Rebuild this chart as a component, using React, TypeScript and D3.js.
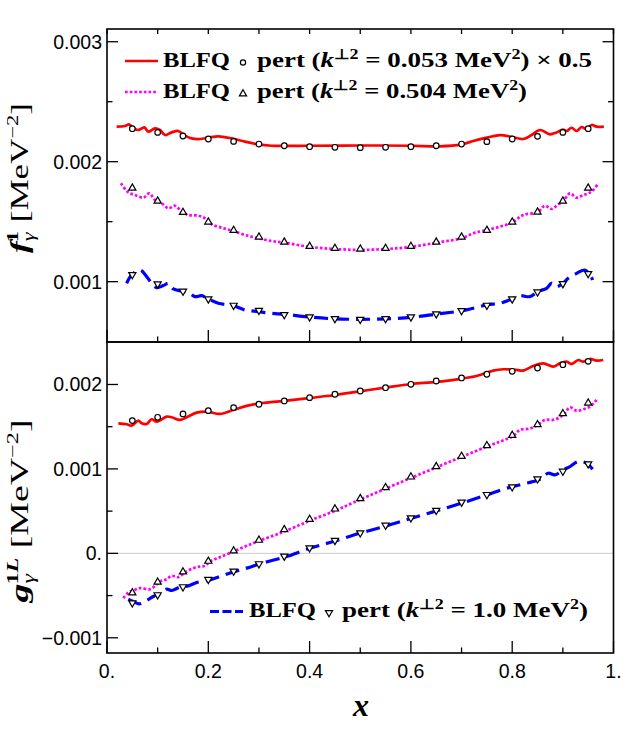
import React from "react";
import * as d3 from "d3";

const W = 623;
const H = 732;

// ---------- data ----------
const markerX = [0.05, 0.1, 0.15, 0.2, 0.25, 0.3, 0.35, 0.4, 0.45, 0.5, 0.55, 0.6, 0.65, 0.7, 0.75, 0.8, 0.85, 0.9, 0.95];

// top panel (f1), perturbative points
const f1RedPts = [0.002275, 0.002244, 0.002214, 0.002189, 0.002169, 0.002147, 0.002133, 0.002125, 0.00212, 0.002117, 0.00212, 0.002125, 0.002133, 0.002147, 0.002167, 0.002189, 0.002211, 0.002244, 0.002275];
const f1MagPts = [0.001783, 0.001675, 0.00158, 0.0015, 0.00143, 0.001375, 0.001333, 0.001297, 0.00128, 0.001275, 0.00128, 0.001297, 0.001333, 0.001375, 0.001431, 0.0015, 0.001583, 0.001675, 0.001783];
const f1BluePts = [0.001056, 0.000978, 0.000917, 0.000853, 0.0008, 0.000758, 0.000722, 0.000703, 0.000689, 0.000683, 0.000689, 0.000703, 0.000728, 0.000756, 0.0008, 0.000853, 0.000911, 0.00098, 0.001064];

// top panel BLFQ curves [x, value]
const f1RedCurve: [number, number][] = [
  [0.019, 0.002292], [0.0355, 0.002297], [0.0434, 0.002311], [0.052, 0.002283], [0.0618, 0.002264],
  [0.0737, 0.002286], [0.0816, 0.00225], [0.0947, 0.002278], [0.1046, 0.002264], [0.1145, 0.002222],
  [0.1276, 0.002244], [0.1408, 0.002256], [0.154, 0.002217], [0.1671, 0.002194], [0.1836, 0.002189],
  [0.2, 0.0022], [0.2198, 0.002211], [0.2461, 0.002194], [0.2724, 0.002167], [0.2987, 0.002144],
  [0.325, 0.002133], [0.3514, 0.002131], [0.4, 0.002133], [0.5, 0.002135], [0.6, 0.002133],
  [0.6573, 0.002128], [0.6999, 0.002144], [0.7231, 0.002172], [0.7501, 0.0022], [0.7758, 0.002222],
  [0.8001, 0.002206], [0.8218, 0.002189], [0.8382, 0.002222], [0.8547, 0.002264], [0.8745, 0.002228],
  [0.8876, 0.002244], [0.9001, 0.002267], [0.9074, 0.002256], [0.9172, 0.002283], [0.9271, 0.002256],
  [0.937, 0.002289], [0.9468, 0.002272], [0.9567, 0.002306], [0.9666, 0.002292], [0.981, 0.002292],
];
const f1MagCurve: [number, number][] = [
  [0.0276, 0.00182], [0.0421, 0.001744], [0.0553, 0.001722], [0.0717, 0.0017], [0.0836, 0.001736],
  [0.0947, 0.001681], [0.1079, 0.001653], [0.1211, 0.001611], [0.1342, 0.001633], [0.1474, 0.001583],
  [0.1605, 0.001556], [0.1803, 0.00155], [0.1934, 0.001528], [0.2066, 0.001478], [0.2264, 0.00145],
  [0.2494, 0.001422], [0.2724, 0.001389], [0.2994, 0.001361], [0.325, 0.001339], [0.3514, 0.001325],
  [0.4, 0.00129], [0.45, 0.001272], [0.5, 0.001265], [0.55, 0.001272], [0.6, 0.00129],
  [0.6573, 0.00133], [0.6999, 0.001361], [0.7231, 0.001403], [0.7501, 0.001431], [0.7758, 0.001458],
  [0.8001, 0.001494], [0.8218, 0.001556], [0.8501, 0.001578], [0.8646, 0.001633], [0.8777, 0.001606],
  [0.8909, 0.001644], [0.9001, 0.001667], [0.914, 0.001736], [0.9271, 0.0017], [0.9403, 0.001722],
  [0.9501, 0.001736], [0.96, 0.001764], [0.9698, 0.00182],
];
const f1BlueCurve: [number, number][] = [
  [0.0388, 0.000986], [0.0487, 0.001056], [0.0651, 0.001097], [0.0783, 0.001042], [0.0882, 0.000986],
  [0.098, 0.00095], [0.1112, 0.000967], [0.1211, 0.000986], [0.131, 0.000939], [0.1474, 0.000922],
  [0.1605, 0.000911], [0.1737, 0.000875], [0.1869, 0.000883], [0.2, 0.000856], [0.2198, 0.00082],
  [0.2494, 0.0008], [0.2724, 0.000764], [0.2994, 0.00075], [0.325, 0.000736], [0.3514, 0.000728],
  [0.4, 0.000705], [0.45, 0.00069], [0.5, 0.000686], [0.55, 0.00069], [0.6, 0.000702],
  [0.6573, 0.000733], [0.6999, 0.000756], [0.7231, 0.000778], [0.7501, 0.000806], [0.7758, 0.00082],
  [0.8001, 0.000856], [0.8153, 0.000883], [0.835, 0.000875], [0.8501, 0.000917], [0.8679, 0.000944],
  [0.8777, 0.000986], [0.8876, 0.000958], [0.9001, 0.000986], [0.9106, 0.001028], [0.9271, 0.001069],
  [0.9435, 0.001097], [0.9534, 0.001061], [0.9587, 0.001014],
];

// bottom panel (g1L), perturbative points
const g1RedPts = [0.001572, 0.001611, 0.001651, 0.00169, 0.001726, 0.001766, 0.001805, 0.001844, 0.001884, 0.001923, 0.001962, 0.002002, 0.002041, 0.002077, 0.002121, 0.002156, 0.002195, 0.002234, 0.002274];
const g1MagPts = [-0.000463, -0.000337, -0.000215, -0.000089, 0.0000335, 0.00016, 0.000286, 0.000408, 0.00053, 0.000653, 0.000783, 0.000909, 0.001032, 0.001154, 0.00128, 0.001402, 0.001529, 0.001659, 0.001785];
const g1BluePts = [-0.00059, -0.000495, -0.0004, -0.000314, -0.000215, -0.000128, -0.0000375, 0.0000611, 0.000148, 0.000239, 0.000329, 0.000416, 0.000505, 0.000602, 0.000692, 0.000783, 0.000878, 0.000968, 0.001055];

const g1RedCurve: [number, number][] = [
  [0.0224, 0.00154], [0.0388, 0.001529], [0.0487, 0.001513], [0.0619, 0.001572], [0.0684, 0.00154],
  [0.0783, 0.001533], [0.0882, 0.001588], [0.098, 0.00156], [0.1178, 0.00162], [0.1277, 0.001612],
  [0.1441, 0.00158], [0.1573, 0.001612], [0.177, 0.001667], [0.1968, 0.001679], [0.223, 0.001651],
  [0.2494, 0.001698], [0.2757, 0.001746], [0.302, 0.001777], [0.3547, 0.001809], [0.4007, 0.00184],
  [0.4468, 0.001872], [0.4994, 0.001919], [0.552, 0.001966], [0.6014, 0.002006], [0.6508, 0.00203],
  [0.7034, 0.002073], [0.7298, 0.0021], [0.7626, 0.002164], [0.7823, 0.00218], [0.8087, 0.002172],
  [0.8218, 0.002164], [0.8415, 0.002219], [0.8613, 0.002251], [0.881, 0.002211], [0.8942, 0.002251],
  [0.9074, 0.00227], [0.9173, 0.002243], [0.9304, 0.00229], [0.9403, 0.00227], [0.9534, 0.002302],
  [0.9666, 0.002282], [0.9797, 0.00229],
];
const g1MagCurve: [number, number][] = [
  [0.0322, -0.00053], [0.0421, -0.000464], [0.052, -0.00044], [0.0652, -0.000412], [0.0849, -0.000424],
  [0.0948, -0.000385], [0.1046, -0.000333], [0.1178, -0.000306], [0.1277, -0.000266], [0.1408, -0.000282],
  [0.154, -0.000227], [0.1704, -0.000175], [0.1836, -0.000156], [0.1934, -0.000148], [0.2033, -0.000097],
  [0.223, -0.000045], [0.2494, 0.000021], [0.2757, 0.000089], [0.302, 0.000152], [0.3415, 0.000239],
  [0.381, 0.000337], [0.4073, 0.000405], [0.4468, 0.000495], [0.4862, 0.000601], [0.5502, 0.000767],
  [0.6508, 0.00102], [0.7495, 0.001264], [0.8021, 0.001391], [0.8153, 0.001462], [0.835, 0.001477],
  [0.8501, 0.001521], [0.8646, 0.00158], [0.881, 0.00158], [0.8942, 0.001612], [0.9041, 0.001659],
  [0.914, 0.00173], [0.9271, 0.00169], [0.9403, 0.001706], [0.9534, 0.001737], [0.9666, 0.001817],
];
const g1BlueCurve: [number, number][] = [
  [0.0421, -0.000542], [0.052, -0.00057], [0.0638, -0.000598], [0.0783, -0.000558], [0.0915, -0.000511],
  [0.1079, -0.000464], [0.1178, -0.000424], [0.1277, -0.00044], [0.1441, -0.0004], [0.1605, -0.000385],
  [0.177, -0.000345], [0.2033, -0.000314], [0.223, -0.000274], [0.2526, -0.000215], [0.2757, -0.000175],
  [0.302, -0.000124], [0.3349, -0.000069], [0.3547, -0.000038], [0.4007, 0.000061], [0.4468, 0.00014],
  [0.4994, 0.000239], [0.552, 0.000325], [0.6014, 0.000416], [0.6508, 0.000503], [0.7034, 0.000601],
  [0.7495, 0.000692], [0.7823, 0.00076], [0.8021, 0.000791], [0.8218, 0.000822], [0.8415, 0.00085],
  [0.8547, 0.000878], [0.8711, 0.000949], [0.8843, 0.000929], [0.9008, 0.000988], [0.914, 0.001027],
  [0.9304, 0.001087], [0.9469, 0.001067], [0.9587, 0.000996],
];

// ticks
const xTicksMajor = [0, 0.2, 0.4, 0.6, 0.8, 1];
const xTickLabels = ["0.", "0.2", "0.4", "0.6", "0.8", "1."];
const xTicksMinor = [0.1, 0.3, 0.5, 0.7, 0.9];
const topYTicks = [0.001, 0.002, 0.003];
const topYTickLabels = ["0.001", "0.002", "0.003"];
const topYMinor = [0.0015, 0.0025];
const botYTicks = [-0.001, 0, 0.001, 0.002];
const botYTickLabels = ["\u22120.001", "0.", "0.001", "0.002"];
const botYMinor = [-0.0005, 0.0005, 0.0015];

// ---------- layout ----------
const X0 = 107, X1 = 613.5;
const TOP0 = 29, MID = 342, BOT1 = 653;

const RED = "#ff0000";
const MAG = "#ff00ff";
const BLUE = "#0000ff";
const SERIF = "'Liberation Serif', 'Times New Roman', serif";
const SANS = "'Liberation Sans', Arial, sans-serif";

const x = d3.scaleLinear().domain([0, 1]).range([X0, X1]);
const yTop = d3.scaleLinear().domain([0.000497, 0.003106]).range([MID, TOP0]);
const yBot = d3.scaleLinear().domain([-0.00118, 0.002503]).range([BOT1, MID]);

const triUp = "M0,-3.8L3.6,2.4L-3.6,2.4Z";
const triDown = "M0,3.8L3.6,-2.4L-3.6,-2.4Z";

function linePath(data: [number, number][], y: d3.ScaleLinear<number, number>) {
  return d3
    .line<[number, number]>()
    .x((d) => x(d[0]))
    .y((d) => y(d[1]))
    .curve(d3.curveCatmullRom.alpha(0.5))(data) as string;
}

const redStyle = { stroke: RED, strokeWidth: 2.7, fill: "none" };
const magStyle = { stroke: MAG, strokeWidth: 2.7, fill: "none", strokeDasharray: "2.7 2" };
const blueStyle = { stroke: BLUE, strokeWidth: 3.2, fill: "none", strokeDasharray: "14 7" };

function Markers({ vals, y, kind }: { vals: number[]; y: d3.ScaleLinear<number, number>; kind: string }) {
  return (
    <g>
      {vals.map((v, i) =>
        kind === "circle" ? (
          <circle key={i} cx={x(markerX[i])} cy={y(v)} r={2.8} fill="#fff" stroke="#000" strokeWidth={1.2} />
        ) : (
          <path
            key={i}
            d={kind === "up" ? triUp : triDown}
            transform={`translate(${x(markerX[i])},${y(v)})`}
            fill="#fff"
            stroke="#000"
            strokeWidth={1.2}
          />
        )
      )}
    </g>
  );
}

export default function App() {
  const majorLen = 11, minorLen = 5.5;
  return (
    <svg
      width={W}
      height={H}
      viewBox={`0 0 ${W} ${H}`}
      style={{ position: "absolute", left: 0, top: 0, background: "#fff" }}
    >
      <defs>
        <clipPath id="clipTop">
          <rect x={X0} y={TOP0} width={X1 - X0} height={MID - TOP0} />
        </clipPath>
        <clipPath id="clipBot">
          <rect x={X0} y={MID} width={X1 - X0} height={BOT1 - MID} />
        </clipPath>
      </defs>

      {/* zero line bottom panel */}
      <line x1={X0} x2={X1} y1={yBot(0)} y2={yBot(0)} stroke="#cccccc" strokeWidth={1} />

      {/* top panel curves */}
      <g clipPath="url(#clipTop)">
        <path d={linePath(f1RedCurve, yTop)} style={redStyle} />
        <path d={linePath(f1MagCurve, yTop)} style={magStyle} />
        <path d={linePath(f1BlueCurve, yTop)} style={blueStyle} />
        <Markers vals={f1RedPts} y={yTop} kind="circle" />
        <Markers vals={f1MagPts} y={yTop} kind="up" />
        <Markers vals={f1BluePts} y={yTop} kind="down" />
      </g>

      {/* bottom panel curves */}
      <g clipPath="url(#clipBot)">
        <path d={linePath(g1RedCurve, yBot)} style={redStyle} />
        <path d={linePath(g1MagCurve, yBot)} style={magStyle} />
        <path d={linePath(g1BlueCurve, yBot)} style={blueStyle} />
        <Markers vals={g1RedPts} y={yBot} kind="circle" />
        <Markers vals={g1MagPts} y={yBot} kind="up" />
        <Markers vals={g1BluePts} y={yBot} kind="down" />
      </g>

      {/* frames */}
      <rect x={X0} y={TOP0} width={X1 - X0} height={MID - TOP0} fill="none" stroke="#000" strokeWidth={1.6} />
      <rect x={X0} y={MID} width={X1 - X0} height={BOT1 - MID} fill="none" stroke="#000" strokeWidth={1.6} />

      {/* x ticks: top panel top & bottom, bottom panel bottom */}
      <g stroke="#000" strokeWidth={1.3}>
        {xTicksMajor.map((t, i) => (
          <g key={"xm" + i}>
            <line x1={x(t)} x2={x(t)} y1={TOP0} y2={TOP0 + 5} />
            <line x1={x(t)} x2={x(t)} y1={MID} y2={MID - majorLen - 1} />
            <line x1={x(t)} x2={x(t)} y1={BOT1} y2={BOT1 - majorLen - 1} />
          </g>
        ))}
        {xTicksMinor.map((t, i) => (
          <g key={"xn" + i}>
            <line x1={x(t)} x2={x(t)} y1={TOP0} y2={TOP0 + 5} />
            <line x1={x(t)} x2={x(t)} y1={MID} y2={MID - minorLen} />
            <line x1={x(t)} x2={x(t)} y1={BOT1} y2={BOT1 - minorLen} />
          </g>
        ))}
        {topYTicks.map((t, i) => (
          <g key={"ty" + i}>
            <line x1={X0} x2={X0 + majorLen} y1={yTop(t)} y2={yTop(t)} />
            <line x1={X1} x2={X1 - majorLen} y1={yTop(t)} y2={yTop(t)} />
          </g>
        ))}
        {topYMinor.map((t, i) => (
          <g key={"tn" + i}>
            <line x1={X0} x2={X0 + minorLen} y1={yTop(t)} y2={yTop(t)} />
            <line x1={X1} x2={X1 - minorLen} y1={yTop(t)} y2={yTop(t)} />
          </g>
        ))}
        {botYTicks.map((t, i) => (
          <line key={"by" + i} x1={X0} x2={X0 + majorLen} y1={yBot(t)} y2={yBot(t)} />
        ))}
        {botYMinor.map((t, i) => (
          <line key={"bn" + i} x1={X0} x2={X0 + minorLen} y1={yBot(t)} y2={yBot(t)} />
        ))}
      </g>

      {/* tick labels */}
      <g fontFamily={SANS} fontSize={19.5} fill="#000">
        {topYTicks.map((t, i) => (
          <text key={"tl" + i} x={102} y={yTop(t) + 7} textAnchor="end">
            {topYTickLabels[i]}
          </text>
        ))}
        {botYTicks.map((t, i) => (
          <text key={"bl" + i} x={102} y={yBot(t) + 7} textAnchor="end">
            {botYTickLabels[i]}
          </text>
        ))}
        {xTicksMajor.map((t, i) => (
          <text key={"xl" + i} x={x(t)} y={678} textAnchor="middle">
            {xTickLabels[i]}
          </text>
        ))}
      </g>

      {/* axis labels */}
      <text x={361} y={716} fontFamily={SERIF} fontSize={32} fontStyle="italic" fontWeight="bold" textAnchor="middle">
        x
      </text>
      <text
        transform="translate(28,178) rotate(-90)"
        fontFamily={SERIF}
        fontSize={25}
        textAnchor="middle"
        textLength={150}
        lengthAdjust="spacingAndGlyphs"
      >
        <tspan fontWeight="bold" fontStyle="italic">f</tspan>
        <tspan fontSize={16} fontStyle="italic" dy={6}>γ</tspan>
        <tspan fontSize={16} fontWeight="bold" dy={-16} dx={-7}>1</tspan>
        <tspan dy={10}> [MeV</tspan>
        <tspan fontSize={16} dy={-10}>−2</tspan>
        <tspan dy={10}>]</tspan>
      </text>
      <text
        transform="translate(28,511) rotate(-90)"
        fontFamily={SERIF}
        fontSize={25}
        textAnchor="middle"
        textLength={183}
        lengthAdjust="spacingAndGlyphs"
      >
        <tspan fontWeight="bold" fontStyle="italic">g</tspan>
        <tspan fontSize={16} fontStyle="italic" dy={6}>γ</tspan>
        <tspan fontSize={16} fontWeight="bold" dy={-16} dx={-7}>1</tspan>
        <tspan fontSize={16} fontWeight="bold" fontStyle="italic">L</tspan>
        <tspan dy={10}> [MeV</tspan>
        <tspan fontSize={16} dy={-10}>−2</tspan>
        <tspan dy={10}>]</tspan>
      </text>

      {/* legend top */}
      <line x1={125} x2={158} y1={61} y2={61} stroke={RED} strokeWidth={2.7} />
      <line x1={125} x2={158} y1={92} y2={92} stroke={MAG} strokeWidth={2.7} strokeDasharray="2.7 2" />
      <g fontFamily={SERIF} fontWeight="bold" fontSize={21} fill="#000">
        <text x={163} y={67} textLength={67} lengthAdjust="spacingAndGlyphs">BLFQ</text>
        <text x={257} y={67} textLength={335} lengthAdjust="spacingAndGlyphs">
          pert (<tspan fontStyle="italic">k</tspan>
          <tspan fontSize={14} dy={-8}>⊥2</tspan>
          <tspan dy={8}> = 0.053 MeV</tspan>
          <tspan fontSize={14} dy={-8}>2</tspan>
          <tspan dy={8}>) × 0.5</tspan>
        </text>
        <text x={163} y={98} textLength={67} lengthAdjust="spacingAndGlyphs">BLFQ</text>
        <text x={257} y={98} textLength={270} lengthAdjust="spacingAndGlyphs">
          pert (<tspan fontStyle="italic">k</tspan>
          <tspan fontSize={14} dy={-8}>⊥2</tspan>
          <tspan dy={8}> = 0.504 MeV</tspan>
          <tspan fontSize={14} dy={-8}>2</tspan>
          <tspan dy={8}>)</tspan>
        </text>
      </g>
      <circle cx={243} cy={62.5} r={2.6} fill="#fff" stroke="#000" strokeWidth={1.2} />
      <path d={triUp} transform="translate(243,93.5)" fill="#fff" stroke="#000" strokeWidth={1.2} />

      {/* legend bottom */}
      <line x1={210} x2={243} y1={611.5} y2={611.5} stroke={BLUE} strokeWidth={3.2} strokeDasharray="9 3.5" />
      <g fontFamily={SERIF} fontWeight="bold" fontSize={21} fill="#000">
        <text x={249} y={617} textLength={67} lengthAdjust="spacingAndGlyphs">BLFQ</text>
        <text x={342} y={617} textLength={246} lengthAdjust="spacingAndGlyphs">
          pert (<tspan fontStyle="italic">k</tspan>
          <tspan fontSize={14} dy={-8}>⊥2</tspan>
          <tspan dy={8}> = 1.0 MeV</tspan>
          <tspan fontSize={14} dy={-8}>2</tspan>
          <tspan dy={8}>)</tspan>
        </text>
      </g>
      <path d={triDown} transform="translate(329,613)" fill="#fff" stroke="#000" strokeWidth={1.2} />
    </svg>
  );
}
